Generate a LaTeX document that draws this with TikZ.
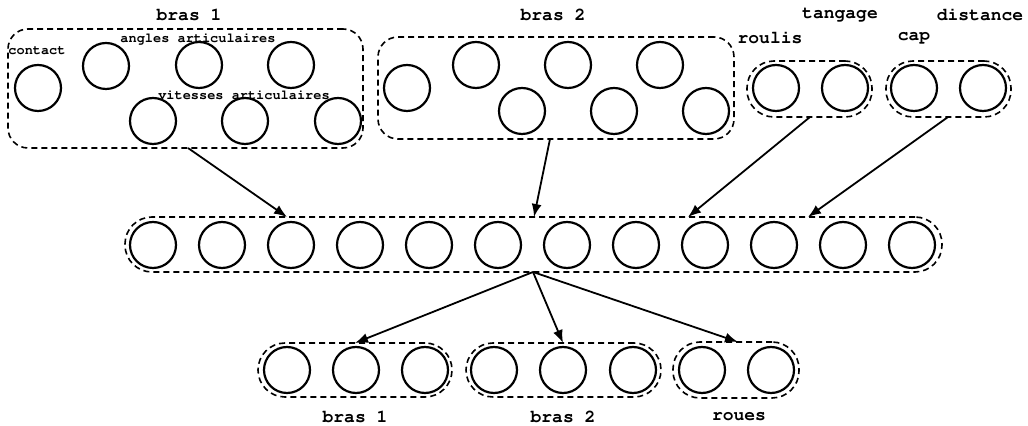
\documentclass[tikz,border=0pt]{standalone}
\usetikzlibrary{arrows.meta,fit}
\newcommand{\cour}{\fontencoding{T1}\fontfamily{pcr}\bfseries}
\begin{document}
\begin{tikzpicture}[x=0.5pt,y=-0.5pt,
  neur/.style={draw,circle,line width=1.1pt,minimum size=23pt,inner sep=0pt},
  grp/.style={draw,line width=0.8pt,dash pattern=on 3pt off 2pt,inner sep=0pt},
  big/.style={grp,rounded corners=10pt},
  pill/.style={grp,rounded corners=13.5pt},
  lab/.style={font=\cour\fontsize{9}{10}\selectfont,inner sep=0pt},
  slab/.style={font=\cour\fontsize{6.8}{8}\selectfont,inner sep=0pt},
  arr/.style={-{Latex[length=6.5pt,width=5pt]},line width=0.9pt}]
\fill[white] (0,0) rectangle (1028,426);
% bras 1 (input)
\node[big,fit={(8,29)(363,148)}] (g1) {};
\foreach \n/\x/\y in {1/38/88,2/106/66,3/199/65,4/291/65,5/153/121,6/245/121,7/338/121}
  \node[neur] (a\n) at (\x,\y) {};
\node[lab] (t1) at (189,15) {bras 1};
\node[slab] (tc) at (37,51) {contact};
\node[slab] (ta) at (198,39) {angles articulaires};
\node[slab] (tv) at (244,95) {vitesses articulaires};
% bras 2 (input)
\node[big,fit={(378,37)(734,139)}] (g2) {};
\foreach \n/\x/\y in {1/407/88,2/476/65,3/522/111,4/568/65,5/614/111,6/660/65,7/706/111}
  \node[neur] (b\n) at (\x,\y) {};
\node[lab] (t2) at (553,15) {bras 2};
% roulis / tangage
\node[pill,fit={(747,61)(872,117)}] (g3) {};
\node[neur] (r1) at (776,88) {};
\node[neur] (r2) at (845,88) {};
\node[lab] (tr) at (770,38) {roulis};
\node[lab] (tt) at (840,15) {tangage};
% cap / distance
\node[pill,fit={(886,61)(1011,117)}] (g4) {};
\node[neur] (c1) at (914,88) {};
\node[neur] (c2) at (983,88) {};
\node[lab] (tcap) at (914,38) {cap};
\node[lab] (td) at (980,15) {distance};
% middle
\node[pill,fit={(125,217)(942,272)}] (gm) {};
\foreach \i in {0,...,11}
  \node[neur] (m\i) at ({153+69*\i},245) {};
% outputs
\node[pill,fit={(258,343)(452,397)}] (o1) {};
\foreach \n/\x in {1/287,2/356,3/425} \node[neur] (p\n) at (\x,370) {};
\node[pill,fit={(466,343)(661,397)}] (o2) {};
\foreach \n/\x in {1/494,2/563,3/633} \node[neur] (q\n) at (\x,370) {};
\node[pill,fit={(673,342)(799,398)}] (o3) {};
\foreach \n/\x in {1/702,2/771} \node[neur] (w\n) at (\x,370) {};
\node[lab] (u1) at (355,417) {bras 1};
\node[lab] (u2) at (563,417) {bras 2};
\node[lab] (u3) at (739,417) {roues};
% connector anchors on the group borders
\coordinate (s1) at (188,148);
\coordinate (s2) at (550,139);
\coordinate (s3) at (810,117);
\coordinate (s4) at (948,117);
\coordinate (e1) at (287,217);
\coordinate (e2) at (534,217);
\coordinate (e3) at (688,217);
\coordinate (e4) at (808,217);
\coordinate (mo) at (533,272);
\coordinate (f1) at (355,343);
\coordinate (f2) at (563,343);
\coordinate (f3) at (738,342);
\draw[arr] (s1) -- (e1);
\draw[arr] (s2) -- (e2);
\draw[arr] (s3) -- (e3);
\draw[arr] (s4) -- (e4);
\draw[arr] (mo) -- (f1);
\draw[arr] (mo) -- (f2);
\draw[arr] (mo) -- (f3);
\end{tikzpicture}
\end{document}
